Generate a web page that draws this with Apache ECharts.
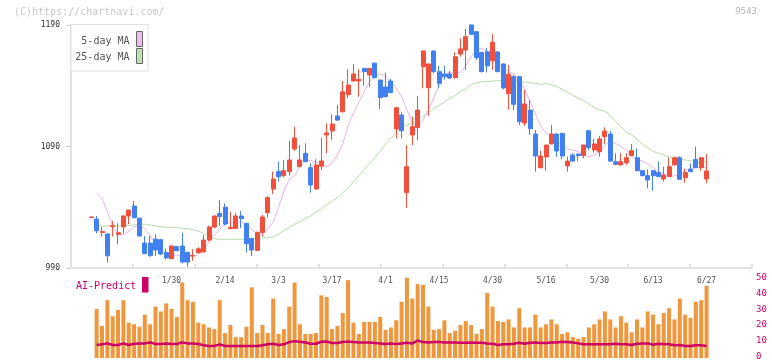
<!DOCTYPE html>
<html><head><meta charset="utf-8">
<script src="https://cdn.jsdelivr.net/npm/echarts@6/dist/echarts.min.js"></script>
<style>html,body{margin:0;padding:0;background:#fff}#c{width:772px;height:361px}</style>
</head><body><div id="c"></div>
<script>
// trading days (2025)
const dates = ["1/8","1/9","1/10","1/14","1/15","1/16","1/17","1/20","1/21","1/22","1/23","1/24","1/27","1/28","1/29","1/30","1/31",
"2/3","2/4","2/5","2/6","2/7","2/10","2/12","2/13","2/14","2/17","2/18","2/19","2/20","2/21","2/25","2/26","2/27","2/28",
"3/3","3/4","3/5","3/6","3/7","3/10","3/11","3/12","3/13","3/14","3/17","3/18","3/19","3/21","3/24","3/25","3/26","3/27","3/28","3/31",
"4/1","4/2","4/3","4/4","4/7","4/8","4/9","4/10","4/11","4/14","4/15","4/16","4/17","4/18","4/21","4/22","4/23","4/24","4/25","4/28","4/30",
"5/1","5/2","5/7","5/8","5/9","5/12","5/13","5/14","5/15","5/16","5/19","5/20","5/21","5/22","5/23","5/26","5/27","5/28","5/29","5/30",
"6/2","6/3","6/4","6/5","6/6","6/9","6/10","6/11","6/12","6/13","6/16","6/17","6/18","6/19","6/20","6/23","6/24","6/25","6/26","6/27"];

// [open, close, low, high]
const ohlc = [
[1031.5,1032,1031,1032.5],[1030.3,1020.7,1018.5,1032.8],[1019.2,1020,1015.8,1024],[1018,1000,994.4,1018.5],[1024.2,1025,1016,1028.8],
[1017.6,1019,1009.5,1026.8],[1023.8,1032.8,1018.2,1033.5],[1032.8,1037.7,1026,1038],[1041,1031.4,1031,1045.2],[1031,1016.4,1015.8,1031.4],
[1010.5,1001.8,1001.5,1016.3],[1010.5,1000.1,999.3,1016.3],[1013.8,1004.8,1000,1017.7],[1013.3,1001.5,1000.5,1014],[1002.7,998.3,997,1006],
[997.6,1008.1,997.4,1008.6],[1007.6,1004.2,1004,1008],[1008.1,994.9,993.8,1019],[1002.9,994.9,991.1,1003],[999.9,1000.2,996,1005.4],
[1002.6,1005.8,1002,1007],[1003.2,1013,1003,1017.2],[1013,1023.7,1012,1024.8],[1023.7,1032.8,1022.7,1033.2],[1035,1032.3,1024.6,1046],
[1040,1026.2,1025,1043.2],[1022.4,1023.5,1022,1036.4],[1022.6,1032.8,1022,1035],[1032.8,1030.6,1022.8,1036.9],[1026.8,1010,1002.6,1027],
[1014.2,1004.8,999.9,1014.5],[1004.5,1019.4,1004,1019.8],[1019.3,1032,1015.8,1033.6],[1035.5,1047.9,1031.4,1049.2],[1055,1063.2,1050.9,1069.3],
[1069.3,1065.2,1061,1077.5],[1066,1070.1,1064.6,1078.9],[1069.3,1078.9,1066,1094.8],[1088,1097,1086.5,1106.3],[1073.4,1078.9,1073,1091.2],
[1084.4,1077.5,1077,1092.6],[1072.6,1058.3,1052,1076.1],[1055,1074.8,1054.5,1079.4],[1073.8,1078.1,1070.6,1097],[1099.5,1101.2,1084.4,1109],
[1102.8,1108.5,1095.3,1116.6],[1115.1,1111.8,1111,1124.1],[1118.6,1135,1118,1143.9],[1132.6,1140.6,1130,1153.6],[1143.9,1149.7,1143.5,1157.9],
[1143.9,1145.3,1131,1153.6],[1154.3,1151.6,1140,1154.5],[1148.8,1154.3,1139,1154.5],[1158.6,1146.6,1146,1159],[1144.7,1130.2,1120.8,1145],
[1139,1131,1130.5,1150.8],[1143.9,1134.3,1134,1145.6],[1104.4,1121.9,1096.7,1122.8],[1115.9,1103,1096.7,1118],[1052,1073.4,1039.6,1091.2],
[1099.5,1106.3,1091.2,1114.5],[1105.5,1120,1095.3,1131.5],[1155.7,1168.6,1137.9,1169],[1138.4,1157.9,1115.2,1158.3],[1168.6,1151.6,1150.2,1169],
[1151.6,1142,1137.9,1156.3],[1149.7,1147.5,1145,1156.3],[1149.7,1146.3,1145.5,1152],[1146.6,1163.9,1146,1167.5],[1166.1,1170.3,1164,1179],
[1169.4,1180.4,1153,1186.7],[1190,1182.3,1182,1190.6],[1184.5,1163.1,1161.2,1185],[1167.3,1151.6,1151,1168],[1168,1156.3,1151,1171],
[1160.5,1175.7,1153,1182.6],[1167.8,1151.6,1151,1168.5],[1157.9,1138.2,1137,1158.5],[1133.5,1149.5,1120.3,1157],[1147.5,1124.7,1120,1148.8],
[1147.5,1110.4,1107.7,1148],[1109.3,1125,1107,1136.5],[1120,1104.6,1099.5,1128.3],[1100.3,1082.2,1069.3,1103.6],[1072.6,1082.2,1072,1086.6],
[1081.4,1091.2,1070,1091.5],[1092.1,1100.3,1092,1107.7],[1100.3,1086.3,1081.6,1100.8],[1100.8,1082.2,1079.4,1101],[1074,1078,1069.3,1081.6],
[1083,1078,1077.5,1084.4],[1083.8,1082.5,1078,1084],[1082.5,1091.2,1080.2,1091.5],[1103,1089,1087,1103.6],[1087.1,1092.1,1084.9,1096.2],
[1085.7,1096.2,1081.6,1098.6],[1098.1,1102.7,1092.1,1105.7],[1100.3,1078,1077.5,1102.7],[1077.5,1075.3,1074.5,1084.4],[1074.8,1077.5,1074.5,1084.4],
[1076.7,1080.8,1074.8,1084.4],[1082.5,1086.6,1082,1092.1],[1080.8,1070.1,1069.5,1088.5],[1070.1,1066,1065.5,1070.5],[1066,1062.4,1055.6,1071.2],
[1070.1,1066,1053.6,1070.5],[1068.5,1065.2,1064.8,1077.5],[1063.2,1066.5,1061.1,1073.4],[1065.2,1073.4,1065,1080.8],[1074.8,1080.8,1074.5,1081.6],
[1080.8,1063,1062.8,1082],[1064.3,1068.5,1060.2,1071.7],[1071.2,1069.3,1069,1076.1],[1079.4,1072.6,1072.3,1089.9],[1072.6,1080.8,1070.1,1081],
[1063.2,1069.8,1059.7,1083.8]];

const ma5 = [null,1051.5,1047.3,1036.4,1024.6,1018,1017,1020,1024,1025,1022,1017,1010,1005,1001,1000.5,1000.5,1000,1000,1000,
1001,1005,1011,1017,1022,1026,1027.5,1028,1028,1026,1021.5,1018.5,1019,1022,1028,1040,1053,1063,1066,1073.4,
1079,1078.5,1077,1075.5,1073.4,1076.5,1083,1092,1107,1117.5,1126,1135,1143,1148,1149.7,1148,1143.5,1138,1131,1120,
1109.5,1106.5,1111.5,1120,1130,1140,1149.5,1151,1149.5,1151,1156.5,1164,1170,1171,1167.5,1161.5,1158.5,1155.7,1151.6,1150,
1145,1137,1127,1117,1107,1101,1098.5,1096,1090,1088,1087,1086,1083.5,1081.6,1083,1085.5,1091,1094,1092.5,1090,
1087,1082.5,1079.5,1078,1076,1072.5,1069.5,1067.5,1066,1065.7,1067.5,1070.5,1072,1072.6,1073,1072.5];

const ma25 = [null,1024.6,1024.6,1024.6,1024.6,1024.6,1024.6,1025,1025.5,1026,1026,1025.5,1024.5,1024,1023.5,1023.3,1023,1022.7,1022.5,1021.5,
1020.2,1018.5,1016,1014,1013.6,1013.6,1013.6,1013.6,1013.6,1013.8,1014,1014.4,1014.5,1015,1015.5,1018,1021,1023.5,1026,1028,
1030.5,1033,1036,1038.5,1042,1045,1048,1052,1056,1061,1066,1071,1076,1081,1086,1092,1097,1101,1105,1107.7,
1109,1111.5,1114.5,1118,1121,1124,1126.5,1129.6,1132,1135,1137.5,1141,1142.5,1143.2,1143.5,1143.9,1144.2,1144.2,1144,1143.8,
1143.5,1143,1142.5,1142,1141,1141.7,1140.6,1139.5,1137,1134.5,1132,1130,1127.7,1125,1122,1120,1119,1115.5,1110.5,1106,
1102,1099.5,1096,1092,1089,1086,1084.4,1083,1081.5,1080,1079.2,1078.9,1078.3,1077.8,1077.5,1077.5];

const volume = [null,30.5,20,36,26,30,36,22,21,19.5,27,21,32,29,34,30.5,25.5,47,36,35,22,21,19,18,36,15.5,20.5,13,13,19.5,44,15.5,
20.5,15.5,37,15,18,32,47,21,15,15,15.5,39,38,18,20,28,48.5,22,15,22.5,22.5,22.5,25.5,17.5,19,23.5,35,50,37,46,45.5,32,17.5,18,23.5,15.5,17,20.5,23,20.5,15,18,40.5,32,23,22.5,24,
19,31,19,19,27,19,21,24,21,15,16,13,12,13,19,21,24,29,24,19,26,22,16,24,19,29,27,21,28,31,24,37,27,25,35,36,45];

const aiPredict = [null,8.1,8.5,9.1,8.1,8.1,9.1,8.1,8.9,9.1,9.1,9.7,8.7,8.7,9.1,8.7,8.7,9.7,9.1,9.1,8.7,7.9,7.5,7.5,8.5,7.5,7.5,7.5,7.5,7.5,7.5,7.5,
7.9,8.5,8.9,8.1,8.5,9.9,10.5,10.1,9.7,8.9,8.9,10.1,10.3,9.3,9.3,9.9,10.3,9.9,9.7,9.7,9.7,9.3,9.1,8.7,9.1,8.7,9.1,9.5,9.1,10.9,9.9,9.7,9.9,9.9,9.7,9.7,9.7,9.5,9.5,9.7,9.5,9.5,9.1,8.9,8.1,8.5,8.5,
8.9,9.5,8.9,9.5,9.7,9.3,9.3,9.7,9.7,10.1,9.9,9.7,9.1,8.5,8.5,8.5,8.5,8.5,8.5,8.9,8.5,8.5,8.1,8.9,9.1,9.1,8.3,8.9,8.7,8.5,7.9,8.1,7.5,7.5,7.9,7.9,7.5];

const priceTicks = {min: 990, max: 1190, interval: 100};
const aiTicks = {min: 0, max: 50, interval: 10};

const MONO = "'DejaVu Sans Mono', monospace";
const UP = '#f0503c', DOWN = '#4080f0';
const N = dates.length;
const plotL = 71, plotW = 681, candleW = 5.35;
const firstX = 91.3;
const dataL = firstX - candleW / 2, dataW = candleW * N;

const chart = echarts.init(document.getElementById('c'), null, {renderer: 'canvas'});
chart.setOption({
  animation: false,
  backgroundColor: '#fff',
  grid: [
    {left: plotL, top: 25, width: plotW, height: 243},
    {left: dataL, top: 25, width: dataW, height: 243},
    {left: dataL, top: 277.7, width: dataW, height: 80.3},
    {left: plotL, top: 277.7, width: plotW, height: 80.3}
  ],
  xAxis: [
    {gridIndex: 0, type: 'value', min: 0, max: 11, interval: 1,
     axisLine: {show: true, lineStyle: {color: '#e2e2e2', width: 2}},
     axisTick: {show: true, inside: true, length: 4, lineStyle: {color: '#e2e2e2', width: 2}},
     axisLabel: {show: false}, splitLine: {show: false}},
    {gridIndex: 1, type: 'category', data: dates, boundaryGap: true,
     axisLine: {show: false}, axisTick: {show: false}, splitLine: {show: false},
     axisLabel: {show: true, margin: 9, fontSize: 8, color: '#555', fontFamily: MONO,
       interval: function (i) { return i >= 15 && (i - 15) % 10 === 0; }}},
    {gridIndex: 2, type: 'category', data: dates, boundaryGap: true, show: false},
    {gridIndex: 3, type: 'value', min: 0, max: 1, show: false}
  ],
  yAxis: [
    {gridIndex: 0, type: 'value', min: priceTicks.min, max: priceTicks.max, interval: priceTicks.interval,
     axisLine: {show: true, lineStyle: {color: '#e2e2e2', width: 2}},
     axisTick: {show: true, length: 5, lineStyle: {color: '#d0d0d0'}},
     axisLabel: {margin: 11, fontSize: 8, color: '#333', fontFamily: MONO, formatter: function (v) { return String(v); }},
     splitLine: {show: false}},
    {gridIndex: 1, type: 'value', min: priceTicks.min, max: priceTicks.max, show: false},
    {gridIndex: 2, type: 'value', min: 0, max: 50, show: false},
    {gridIndex: 2, type: 'value', min: aiTicks.min, max: aiTicks.max, show: false},
    {gridIndex: 3, type: 'value', position: 'right', min: aiTicks.min, max: aiTicks.max, interval: aiTicks.interval,
     axisLine: {show: false}, axisTick: {show: false}, splitLine: {show: false},
     axisLabel: {margin: 4, fontSize: 9, color: '#cc0066', fontFamily: MONO}}
  ],
  series: [
    {type: 'line', name: '25-day MA', xAxisIndex: 1, yAxisIndex: 1, data: ma25, symbol: 'none',
     lineStyle: {color: '#b6dca6', width: 1}, z: 1},
    {type: 'line', name: '5-day MA', xAxisIndex: 1, yAxisIndex: 1, data: ma5, symbol: 'none',
     lineStyle: {color: '#e8b4ea', width: 1}, z: 1},
    {type: 'candlestick', xAxisIndex: 1, yAxisIndex: 1, data: ohlc, barWidth: 4.5,
     itemStyle: {color: UP, color0: DOWN, borderColor: UP, borderColor0: DOWN, borderColorDoji: UP, borderWidth: 1}, z: 2},
    {type: 'bar', xAxisIndex: 2, yAxisIndex: 2, data: volume, barWidth: 4,
     itemStyle: {color: '#f0963c'}, z: 1},
    {type: 'line', xAxisIndex: 2, yAxisIndex: 3, data: aiPredict, symbol: 'none',
     lineStyle: {color: '#cc0066', width: 2.5}, z: 3}
  ],
  graphic: [
    {type: 'text', x: 14, y: 12.5, style: {text: '(C)https://chartnavi.com/', fill: '#c8c8c8', font: '10px ' + MONO, verticalAlign: 'middle'}},
    {type: 'text', x: 757, y: 12, style: {text: '9543', fill: '#b4b4b4', font: '9px ' + MONO, align: 'right', verticalAlign: 'middle'}},
    {type: 'rect', shape: {x: 71, y: 24.5, width: 77, height: 46.5}, style: {fill: '#fff', stroke: '#e0e0e0', lineWidth: 1}, z: 10},
    {type: 'text', x: 129.5, y: 41.7, style: {text: '5-day MA', fill: '#555', font: '10px ' + MONO, align: 'right', verticalAlign: 'middle'}, z: 11},
    {type: 'text', x: 129.5, y: 57.3, style: {text: '25-day MA', fill: '#555', font: '10px ' + MONO, align: 'right', verticalAlign: 'middle'}, z: 11},
    {type: 'rect', shape: {x: 136.5, y: 31.5, width: 6, height: 15}, style: {fill: '#ecbcec', stroke: '#666', lineWidth: 1}, z: 11},
    {type: 'rect', shape: {x: 136.5, y: 48.5, width: 6, height: 15}, style: {fill: '#bedfb0', stroke: '#666', lineWidth: 1}, z: 11},
    {type: 'text', x: 76, y: 286, style: {text: 'AI-Predict', fill: '#cc0066', font: '10px ' + MONO, verticalAlign: 'middle'}, z: 11},
    {type: 'rect', shape: {x: 142, y: 277, width: 6.5, height: 15.5}, style: {fill: '#cc0066'}, z: 11}
  ]
});
</script>
</body></html>
